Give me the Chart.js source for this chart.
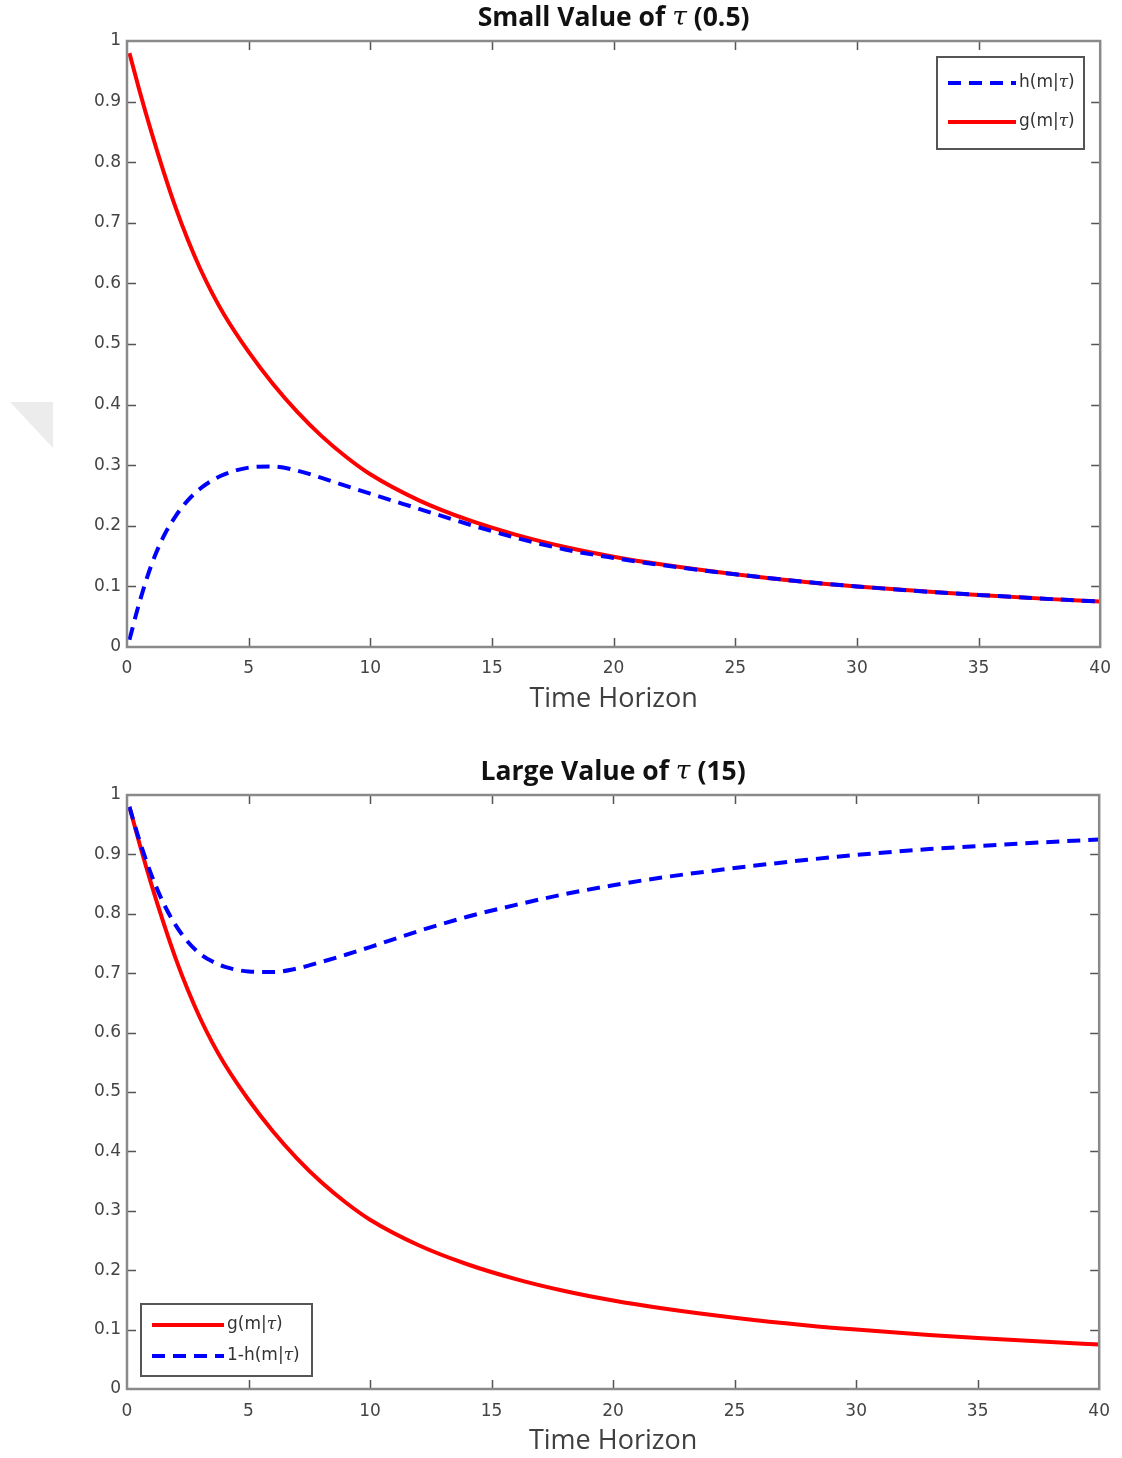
<!DOCTYPE html>
<html>
<head>
<meta charset="utf-8">
<title>Time Horizon: g(m|τ) and h(m|τ)</title>
<script src="https://cdn.jsdelivr.net/npm/chart.js@4.4.1/dist/chart.umd.min.js"></script>
<style>
  html, body { margin: 0; padding: 0; background: #fff; }
  #wrap { position: relative; width: 1122px; height: 1458px; overflow: hidden; }
  .panel { position: absolute; left: 0; width: 1122px; }
  #p1 { top: 0; height: 725px; }
  #p2 { top: 725px; height: 733px; }
  .mark { position: absolute; left: 10px; top: 402px; width: 43px; height: 46px;
          background: #ececec; clip-path: polygon(0 0, 100% 0, 100% 100%); }
</style>
</head>
<body>
<div id="wrap">
  <div class="mark"></div>
  <div class="panel" id="p1"><canvas id="c1"></canvas></div>
  <div class="panel" id="p2"><canvas id="c2"></canvas></div>
</div>
<script>
// Time horizon m (shared by every curve)
const horizon = [0.1, 0.5, 1, 1.5, 2, 2.5, 3, 3.5, 4, 5, 6, 7, 8, 9, 10, 12, 14, 16, 18, 20, 22, 25, 28, 30, 33, 35, 38, 40];
// g(m|tau)
const gValues = [0.98, 0.92, 0.85, 0.785, 0.725, 0.672, 0.625, 0.584, 0.548, 0.487, 0.434, 0.388, 0.348, 0.314, 0.285, 0.242, 0.21, 0.185, 0.165, 0.149, 0.136, 0.12, 0.107, 0.1, 0.091, 0.086, 0.079, 0.075];
// h(m|tau) for tau = 0.5
const hSmall = [0.012, 0.072, 0.135, 0.182, 0.216, 0.242, 0.261, 0.275, 0.285, 0.296, 0.298, 0.291, 0.279, 0.266, 0.253, 0.228, 0.203, 0.18, 0.161, 0.147, 0.135, 0.12, 0.107, 0.1, 0.091, 0.086, 0.079, 0.075];
// 1 - h(m|tau) for tau = 15
const oneMinusHLarge = [0.98, 0.925, 0.866, 0.818, 0.781, 0.753, 0.733, 0.72, 0.711, 0.703, 0.702, 0.708, 0.719, 0.731, 0.744, 0.771, 0.795, 0.815, 0.833, 0.848, 0.861, 0.877, 0.891, 0.899, 0.909, 0.914, 0.921, 0.925];

const xTicks = [0, 5, 10, 15, 20, 25, 30, 35, 40];
const yTicks = [0, 0.1, 0.2, 0.3, 0.4, 0.5, 0.6, 0.7, 0.8, 0.9, 1];
const xTickLabels = ['0', '5', '10', '15', '20', '25', '30', '35', '40'];
const yTickLabels = ['0', '0.1', '0.2', '0.3', '0.4', '0.5', '0.6', '0.7', '0.8', '0.9', '1'];

const titleSmall = 'Small Value of τ (0.5)';
const titleLarge = 'Large Value of τ (15)';
const xAxisTitle = 'Time Horizon';

const RED = '#ff0000';
const BLUE = '#0000ff';
const DASH = [13, 8];
const TICK_FONT = '"DejaVu Sans", Arial, sans-serif';
const HEAD_FONT = '"Open Sans", Lato, sans-serif';

function points(ys) { return horizon.map((x, i) => ({ x, y: ys[i] })); }

// Draw a string where every τ is set in italic serif
function drawMixed(ctx, text, x, y, size, weight, family, align) {
  const parts = text.split(/(τ)/).filter(s => s.length);
  const fontFor = s => s === 'τ'
    ? `italic ${size}px "DejaVu Serif", serif`
    : `${weight} ${size}px ${family}`;
  let total = 0;
  parts.forEach(p => { ctx.font = fontFor(p); total += ctx.measureText(p).width; });
  let cx = align === 'center' ? x - total / 2 : x;
  ctx.textAlign = 'left';
  parts.forEach(p => { ctx.font = fontFor(p); ctx.fillText(p, cx, y); cx += ctx.measureText(p).width; });
}

// Box frame with inward tick marks on all four sides
const framePlugin = {
  id: 'frame',
  afterDatasetsDraw(chart) {
    const { ctx, chartArea: a, scales: { x, y } } = chart;
    ctx.save();
    ctx.strokeStyle = '#555';
    ctx.lineWidth = 1.5;
    ctx.beginPath();
    x.ticks.forEach(t => {
      const px = Math.round(x.getPixelForValue(t.value)) + 0.5;
      if (px <= a.left + 2 || px >= a.right - 2) return;
      ctx.moveTo(px, a.bottom); ctx.lineTo(px, a.bottom - 9);
      ctx.moveTo(px, a.top); ctx.lineTo(px, a.top + 9);
    });
    y.ticks.forEach(t => {
      const py = Math.round(y.getPixelForValue(t.value)) + 0.5;
      if (py <= a.top + 2 || py >= a.bottom - 2) return;
      ctx.moveTo(a.left, py); ctx.lineTo(a.left + 9, py);
      ctx.moveTo(a.right, py); ctx.lineTo(a.right - 9, py);
    });
    ctx.stroke();
    ctx.strokeStyle = '#8a8a8a';
    ctx.lineWidth = 2.5;
    ctx.strokeRect(a.left, a.top, a.right - a.left, a.bottom - a.top);
    ctx.restore();
  }
};

// Panel title drawn above the plot box
const titlePlugin = {
  id: 'panelTitle',
  afterDraw(chart, args, o) {
    const { ctx, chartArea: a } = chart;
    ctx.save();
    ctx.fillStyle = '#111';
    ctx.textBaseline = 'middle';
    drawMixed(ctx, o.text, (a.left + a.right) / 2, o.y, 26.5, 'bold', HEAD_FONT, 'center');
    ctx.restore();
  }
};

// Boxed legend with line samples taken from the datasets
const boxLegendPlugin = {
  id: 'boxLegend',
  afterDraw(chart, args, o) {
    const { ctx } = chart;
    ctx.save();
    ctx.fillStyle = '#fff';
    ctx.fillRect(o.x, o.y, o.w, o.h);
    ctx.strokeStyle = '#555';
    ctx.lineWidth = 2;
    ctx.strokeRect(o.x, o.y, o.w, o.h);
    o.order.forEach((di, k) => {
      const ds = chart.data.datasets[di];
      const ly = o.y + o.first + k * o.step;
      ctx.strokeStyle = ds.borderColor;
      ctx.lineWidth = ds.borderWidth;
      ctx.setLineDash(ds.borderDash || []);
      ctx.beginPath();
      ctx.moveTo(o.x + 11, ly);
      ctx.lineTo(o.x + 11 + o.sample, ly);
      ctx.stroke();
      ctx.setLineDash([]);
      ctx.fillStyle = '#333';
      ctx.textBaseline = 'middle';
      drawMixed(ctx, ds.label, o.x + 14 + o.sample, ly, 17, 'normal', TICK_FONT, 'left');
    });
    ctx.restore();
  }
};

function makeScales(xHeight, titlePad, tickPad) {
  return {
    x: {
      type: 'linear', min: 0, max: 40,
      afterBuildTicks: s => { s.ticks = xTicks.map(v => ({ value: v })); },
      afterFit: s => { s.height = xHeight; },
      grid: { display: false, drawTicks: false },
      border: { display: false },
      ticks: {
        padding: tickPad, color: '#444', maxRotation: 0,
        font: { family: TICK_FONT, size: 17 },
        callback: (v) => xTickLabels[xTicks.indexOf(v)]
      },
      title: {
        display: true, text: xAxisTitle, color: '#404040',
        font: { family: HEAD_FONT, size: 27 },
        padding: { top: 0, bottom: titlePad }
      }
    },
    y: {
      type: 'linear', min: 0, max: 1,
      afterBuildTicks: s => { s.ticks = yTicks.map(v => ({ value: v })); },
      afterFit: s => { s.width = 127; },
      grid: { display: false, drawTicks: false },
      border: { display: false },
      ticks: {
        padding: 6, color: '#444',
        font: { family: TICK_FONT, size: 17 },
        callback: (v) => yTickLabels[yTicks.findIndex(t => Math.abs(t - v) < 1e-9)]
      }
    }
  };
}

function lineSet(label, ys, color, dash) {
  return {
    label, data: points(ys), borderColor: color, backgroundColor: color,
    borderWidth: 4, borderDash: dash || [], pointRadius: 0,
    cubicInterpolationMode: 'monotone', fill: false
  };
}

Chart.defaults.font.family = TICK_FONT;

new Chart(document.getElementById('c1'), {
  type: 'line',
  data: {
    datasets: [
      lineSet('h(m|τ)', hSmall, BLUE, DASH),
      lineSet('g(m|τ)', gValues, RED)
    ]
  },
  options: {
    responsive: true, maintainAspectRatio: false, animation: false,
    layout: { padding: { top: 41, right: 20, left: 0, bottom: 0 } },
    scales: makeScales(78, 9, 11),
    plugins: {
      legend: { display: false }, tooltip: { enabled: false },
      panelTitle: { text: titleSmall, y: 18 },
      boxLegend: { x: 937, y: 57, w: 147, h: 92, first: 26, step: 39, sample: 68, order: [0, 1] }
    }
  },
  plugins: [framePlugin, titlePlugin, boxLegendPlugin]
});

new Chart(document.getElementById('c2'), {
  type: 'line',
  data: {
    datasets: [
      lineSet('1-h(m|τ)', oneMinusHLarge, BLUE, DASH),
      lineSet('g(m|τ)', gValues, RED)
    ]
  },
  options: {
    responsive: true, maintainAspectRatio: false, animation: false,
    layout: { padding: { top: 70, right: 20, left: 0, bottom: 0 } },
    scales: makeScales(69, 0, 12),
    plugins: {
      legend: { display: false }, tooltip: { enabled: false },
      panelTitle: { text: titleLarge, y: 47 },
      boxLegend: { x: 141, y: 579, w: 171, h: 72, first: 21, step: 31, sample: 72, order: [1, 0] }
    }
  },
  plugins: [framePlugin, titlePlugin, boxLegendPlugin]
});
</script>
</body>
</html>
